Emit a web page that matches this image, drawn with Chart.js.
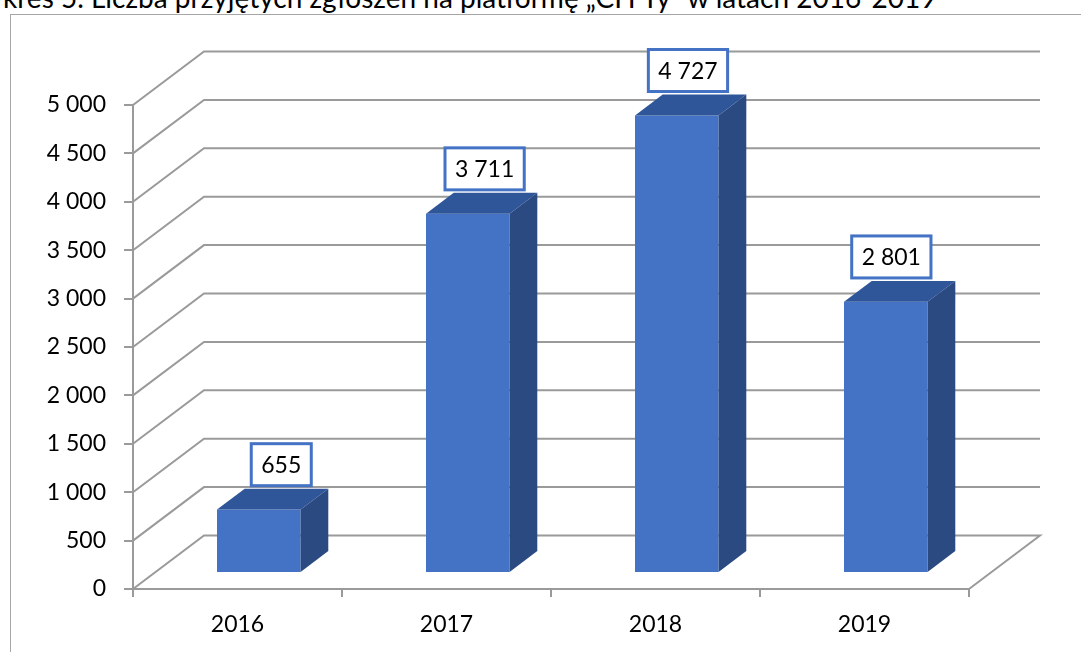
<!DOCTYPE html>
<html lang="pl">
<head>
  <meta charset="UTF-8">
  <title>Wykres 5. Liczba przyjętych zgłoszeń</title>
  <script src="https://cdn.jsdelivr.net/npm/chart.js@4/dist/chart.umd.min.js"></script>
  <style>
    * { box-sizing: border-box; margin: 0; padding: 0; }
    html, body { width: 1081px; height: 652px; overflow: hidden; background: #fff; }
    .title { position: absolute; left: -40px; top: -17px; font: 28px Lato, sans-serif; line-height: 28px; white-space: nowrap; color: #000; }
    .frame { position: absolute; left: 10px; top: 14px; right: -2px; bottom: -2px; border-left: 1px solid #a6a6a6; border-top: 1px solid #a6a6a6; }
    .wrap { position: absolute; left: 0; top: 0; width: 1081px; height: 652px; }
  </style>
</head>
<body>
  <div class="title">Wykres 5. Liczba przyjętych zgłoszeń na platformę „CH Ty” w latach 2016-2019</div>
  <div class="frame"></div>
  <div class="wrap"><canvas id="chart" width="1081" height="652"></canvas></div>

<script>
// data
const YEARS  = ['2016', '2017', '2018', '2019'];
const COUNTS = [655, 3711, 4727, 2801];
const Y_MIN  = 0;
const Y_MAX  = 5000;
const Y_STEP = 500;

// look
const FRONT = '#4472c4';
const TOP   = '#30569a';
const SIDE  = '#2b4a82';
const GRID  = '#9a9a9a';
const FONT  = { family: 'Lato, sans-serif', size: 23 };

// oblique depth of the floor, and where the bars sit inside it
const DEPTH = { x: 71, y: -53.5 };
const BAR_FRONT = 0.3;
const BAR_DEPTH = 0.39;

function fmt(v) { return String(v).replace(/\B(?=(\d{3})+(?!\d))/g, ' '); }

const box3d = {
  id: 'box3d',
  beforeDatasetsDraw(chart) {
    const { ctx, chartArea: a, scales: { y } } = chart;
    // back wall + floor grid
    ctx.save();
    ctx.strokeStyle = GRID;
    ctx.lineWidth = 2;
    for (const t of y.ticks) {
      const py = y.getPixelForValue(t.value);
      ctx.beginPath();
      ctx.moveTo(a.left, py);
      ctx.lineTo(a.left + DEPTH.x, py + DEPTH.y);
      ctx.lineTo(a.right + DEPTH.x, py + DEPTH.y);
      if (t.value === y.min) ctx.lineTo(a.right, py);
      ctx.stroke();
    }
    ctx.restore();
    ctx.save();
    ctx.translate(DEPTH.x * BAR_FRONT, DEPTH.y * BAR_FRONT);
  },
  afterDatasetsDraw(chart) {
    const { ctx, chartArea: a } = chart;
    const meta = chart.getDatasetMeta(0);
    const dx = DEPTH.x * BAR_DEPTH, dy = DEPTH.y * BAR_DEPTH;
    const bars = meta.data.map(b => b.getProps(['x', 'y', 'base', 'width'], true));

    for (const { x, y, base, width } of bars) {
      const l = x - width / 2, r = x + width / 2;
      ctx.fillStyle = TOP;
      ctx.beginPath();
      ctx.moveTo(l, y); ctx.lineTo(l + dx, y + dy); ctx.lineTo(r + dx, y + dy); ctx.lineTo(r, y);
      ctx.closePath(); ctx.fill();
      ctx.fillStyle = SIDE;
      ctx.beginPath();
      ctx.moveTo(r, y); ctx.lineTo(r + dx, y + dy); ctx.lineTo(r + dx, base + dy); ctx.lineTo(r, base);
      ctx.closePath(); ctx.fill();
    }
    ctx.restore();

    // value labels in boxes
    const sx = DEPTH.x * BAR_FRONT, sy = DEPTH.y * BAR_FRONT;
    const mid = (a.left + a.right) / 2;
    ctx.save();
    ctx.font = FONT.size + 'px ' + FONT.family;
    ctx.textAlign = 'center';
    ctx.textBaseline = 'middle';
    bars.forEach((b, i) => {
      const txt = fmt(COUNTS[i]);
      const fx = b.x + sx;
      const cx = fx + 14 - 0.027 * (fx - mid - sx);
      const bottom = b.y + sy + dy - 3;
      const h = 42, w = ctx.measureText(txt).width + 20;
      ctx.fillStyle = '#fff';
      ctx.fillRect(cx - w / 2, bottom - h, w, h);
      ctx.strokeStyle = FRONT;
      ctx.lineWidth = 3;
      ctx.strokeRect(cx - w / 2, bottom - h, w, h);
      ctx.fillStyle = '#000';
      ctx.fillText(txt, cx, bottom - h / 2 + 1);
    });
    ctx.restore();
  }
};

function draw() {
  new Chart(document.getElementById('chart'), {
    type: 'bar',
    data: {
      labels: YEARS,
      datasets: [{
        data: COUNTS,
        backgroundColor: FRONT,
        barPercentage: 0.4,
        categoryPercentage: 1,
        clip: false,
      }],
    },
    options: {
      responsive: false,
      animation: false,
      layout: { padding: { left: 0, top: 105, right: 112, bottom: 0 } },
      plugins: { legend: { display: false }, tooltip: { enabled: false } },
      scales: {
        x: {
          offset: true,
          grid: { offset: true, drawOnChartArea: false, drawTicks: true, tickLength: 8, color: GRID, lineWidth: 2 },
          border: { color: GRID, width: 2 },
          ticks: { font: FONT, color: '#000', padding: 14 },
          afterFit(s) { s.height = 63; },
        },
        y: {
          min: Y_MIN, max: Y_MAX,
          grid: { drawOnChartArea: false, drawTicks: true, tickLength: 9, color: GRID, lineWidth: 2 },
          border: { color: GRID, width: 2 },
          ticks: { stepSize: Y_STEP, font: FONT, color: '#000', padding: 18, callback: v => fmt(v) },
          afterFit(s) { s.width = 133; },
        },
      },
    },
    plugins: [box3d],
  });
}

(document.fonts ? document.fonts.load('23px Lato').catch(() => {}) : Promise.resolve()).then(draw);
</script>
</body>
</html>
